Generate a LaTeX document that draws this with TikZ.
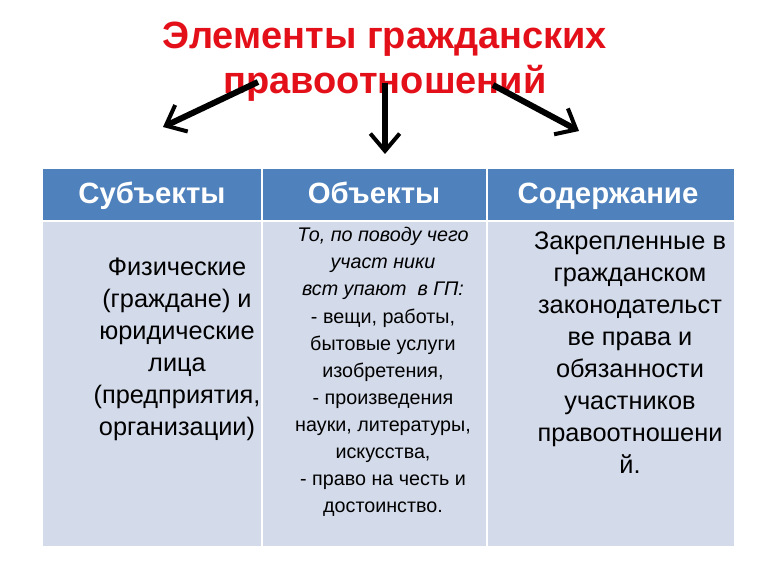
\documentclass[tikz,border=0pt]{standalone}
\usepackage{fontspec}
\setmainfont{Liberation Sans}
\usetikzlibrary{arrows.meta}
\definecolor{hdrblue}{HTML}{4F81BD}
\definecolor{cellblue}{HTML}{D3DAE9}
\definecolor{titlered}{HTML}{E3101A}
\begin{document}
\begin{tikzpicture}[x=0.75pt, y=-0.75pt]

    % Define styles
    \tikzset{
      hdr/.style={fill=hdrblue, draw=white, line width=1.5pt},
      cell/.style={fill=cellblue, draw=white, line width=1.5pt},
      hdrtext/.style={anchor=base, text=white, font=\bfseries\fontsize{22}{26}\selectfont},
      body/.style={align=center, font=\fontsize{19}{24}\selectfont},
      bigarrow/.style={line width=4.5pt, -{Straight Barb[length=13pt, width=22pt, line width=3pt]}}
    }
    \useasboundingbox (0,0) rectangle (770,577);

    % TITLE
    \node (title) [align=center, text=titlered, font=\bfseries\fontsize{28.5}{34}\selectfont] at (385,62)
      {Элементы гражданских\\правоотношений};

    % TABLE
    \draw[hdr] (42,168) rectangle (262,221);
    \draw[hdr] (262,168) rectangle (487,221);
    \draw[hdr] (487,168) rectangle (735,221);
    \draw[cell] (42,221) rectangle (262,547);
    \draw[cell] (262,221) rectangle (487,547);
    \draw[cell] (487,221) rectangle (735,547);

    \node (subj) [hdrtext] at (152,204) {Субъекты};
    \node (obj) [hdrtext] at (374,204) {Объекты};
    \node (cont) [hdrtext] at (608,204) {Содержание};

    \node (subjtext) [body] at (177,349)
      {Физические\\(граждане) и\\юридические\\лица\\(предприятия,\\организации)};
    \node (objtext) [align=center, font=\fontsize{14.8}{20.3}\selectfont] at (383,372)
      {\textit{То, по поводу чего}\\\textit{участ ники}\\\textit{вст упают \ в ГП:}\\- вещи, работы,\\бытовые услуги\\изобретения,\\- произведения\\науки, литературы,\\искусства,\\- право на честь и\\достоинство.};
    \node (conttext) [body] at (630,353)
      {Закрепленные в\\гражданском\\законодательст\\ве права и\\обязанности\\участников\\правоотношени\\й.};

    % ARROWS
    \coordinate (lstart) at (258,82);
    \coordinate (lend) at (163,127);
    \coordinate (mstart) at (385,83);
    \coordinate (mend) at (385,154);
    \coordinate (rstart) at (493,85);
    \coordinate (rend) at (579,131);
    \draw[bigarrow] (lstart) -- (lend);
    \draw[bigarrow] (mstart) -- (mend);
    \draw[bigarrow] (rstart) -- (rend);

\end{tikzpicture}
\end{document}
